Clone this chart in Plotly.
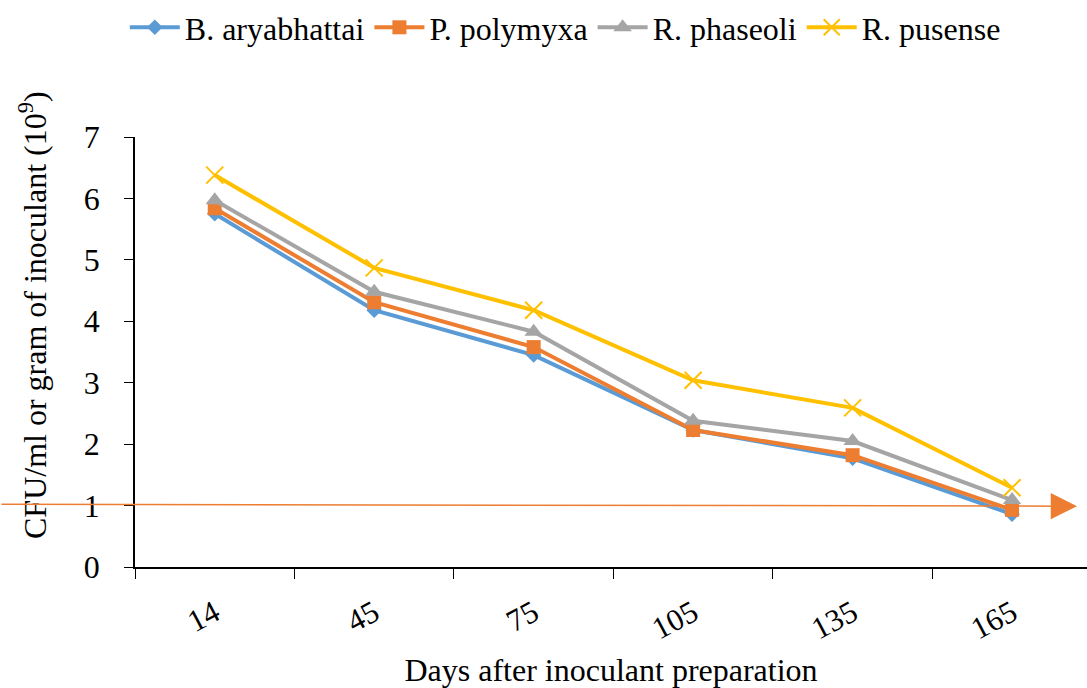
import plotly.graph_objects as go

days = ["14", "45", "75", "105", "135", "165"]
b_aryabhattai = [5.75, 4.18, 3.45, 2.23, 1.77, 0.86]
p_polymyxa = [5.84, 4.31, 3.58, 2.23, 1.82, 0.93]
r_phaseoli = [5.97, 4.48, 3.83, 2.38, 2.05, 1.09]
r_pusense = [6.38, 4.87, 4.18, 3.04, 2.59, 1.29]
threshold = 1.0

FONT = "Liberation Serif"

series = [
    ("B. aryabhattai", b_aryabhattai, "#5B9BD5", dict(symbol="diamond", size=12)),
    ("P. polymyxa", p_polymyxa, "#ED7D31", dict(symbol="square", size=14)),
    ("R. phaseoli", r_phaseoli, "#A5A5A5", dict(symbol="triangle-up", size=16)),
    ("R. pusense", r_pusense, "#FFC000", dict(symbol="x-thin", size=17, line=dict(width=2, color="#FFC000"))),
]

fig = go.Figure()
for name, vals, col, mk in series:
    fig.add_trace(go.Scatter(
        x=days, y=vals, name=name, mode="lines+markers",
        line=dict(color=col, width=4),
        marker=dict(color=col, **mk),
    ))

fig.update_layout(
    template="none",
    width=1087, height=688,
    margin=dict(l=135, r=0, t=137, b=121),
    paper_bgcolor="white", plot_bgcolor="white",
    font=dict(family=FONT, size=32, color="black"),
    showlegend=True,
    legend=dict(orientation="h", x=0.452, xanchor="center", y=1.0, yref="container",
                yanchor="top", font=dict(family=FONT, size=32, color="black"),
                itemwidth=50, tracegroupgap=0, traceorder="normal"),
    xaxis=dict(
        type="category", range=[-0.5, 5.47],
        showline=True, linecolor="black", linewidth=1.5,
        ticks="outside", tickson="boundaries", ticklen=10, tickcolor="black",
        tickangle=-28, tickfont=dict(family=FONT, size=31, color="black"),
        ticklabelstandoff=14,
        showgrid=False, zeroline=False,
        title=dict(text="Days after inoculant preparation",
                   font=dict(family=FONT, size=32, color="black"), standoff=18),
    ),
    yaxis=dict(
        range=[0, 7], dtick=1, tick0=0,
        showline=True, linecolor="black", linewidth=1.5,
        ticks="outside", ticklen=9, tickcolor="black",
        tickfont=dict(family=FONT, size=32, color="black"),
        ticklabelstandoff=18,
        showgrid=False, zeroline=False,
    ),
)

fig.add_annotation(
    text="CFU/ml or gram of inoculant (10<sup>9</sup>)",
    xref="paper", yref="paper", x=0, y=0.5, xanchor="center", yanchor="middle",
    textangle=-90, showarrow=False, font=dict(size=32, family=FONT, color="black"),
    xshift=-102, yshift=37,
)

# threshold arrow line
fig.add_annotation(
    x=(1077 - 135) / (1087 - 135), y=threshold * 0.99, xref="paper", yref="y",
    ax=-1077, ay=-2, axref="pixel", ayref="pixel",
    showarrow=True, arrowhead=2, arrowsize=3.5, arrowwidth=1.5,
    arrowcolor="#ED7D31", text=" ", font=dict(size=1),
)

fig.write_html("out.html")
